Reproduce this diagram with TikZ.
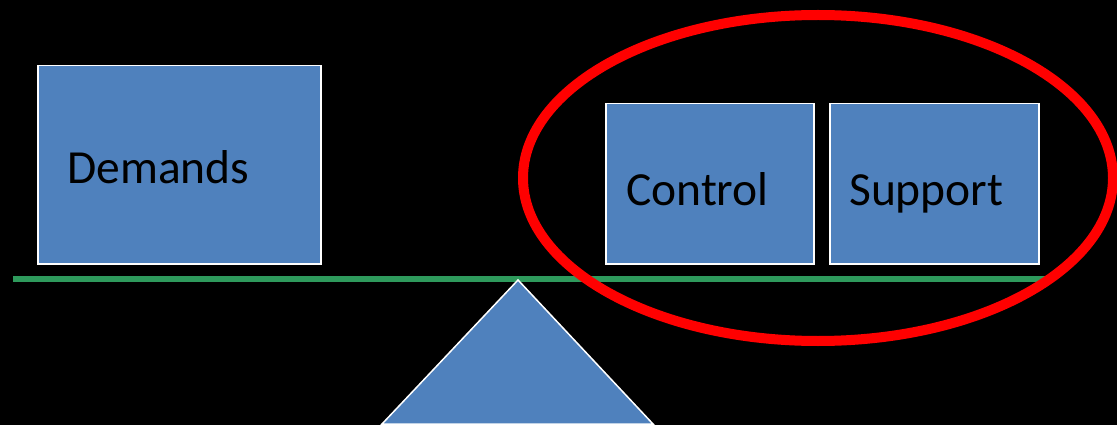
\documentclass[tikz,border=0pt]{standalone}
\usepackage{fontspec}
\setmainfont{Carlito}
\definecolor{boxblue}{HTML}{4F81BD}
\definecolor{beamgreen}{HTML}{2E9A5C}
\begin{document}
\begin{tikzpicture}[x=1pt,y=-1pt,
  box/.style={draw=white, line width=1.5pt, fill=boxblue, inner sep=0pt, anchor=north west},
  lbl/.style={anchor=base west, inner sep=0pt, text=black, font=\fontsize{47.5}{52}\selectfont},
  beam/.style={draw=beamgreen, line width=6pt},
  ring/.style={draw=red, line width=10pt}]
\fill[black] (0,0) rectangle (1117,425);
\useasboundingbox (0,0) rectangle (1117,425);
% boxes
\node[box, minimum width=283pt, minimum height=198pt] (dem) at (37,65) {};
\node[box, minimum width=208pt, minimum height=160pt] (con) at (605,103) {};
\node[box, minimum width=209pt, minimum height=160pt] (sup) at (829,103) {};
\node[lbl] (demt) at (67,183) {Demands};
\node[lbl] (cont) at (626,205) {Control};
\node[lbl] (supt) at (849,205) {Support};
% beam
\coordinate (bl) at (13,279);
\coordinate (br) at (1049,279);
\draw[beam] (bl) -- (br);
% fulcrum
\coordinate (apex) at (518,280);
\coordinate (baseL) at (382,424);
\coordinate (baseR) at (653,424);
\filldraw[fill=boxblue, draw=white, line width=1.5pt, line join=miter] (apex) -- (baseR) -- (baseL) -- cycle;
% ellipse
\draw[ring] (818,178) ellipse [x radius=295, y radius=163];
\end{tikzpicture}
\end{document}
